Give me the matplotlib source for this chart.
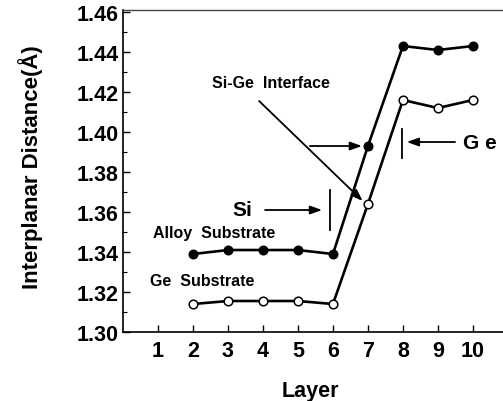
import numpy as np
from matplotlib import pyplot as plt, ticker as mticker

plt.rcParams['font.family'] = ['Liberation Sans', 'DejaVu Sans']
plt.rcParams['font.weight'] = 'bold'

layers = [2, 3, 4, 5, 6, 7, 8, 9, 10]
alloy = [1.339, 1.341, 1.341, 1.341, 1.339, 1.393, 1.443, 1.441, 1.443]
ge_sub = [1.314, 1.3155, 1.3155, 1.3155, 1.314, 1.364, 1.416, 1.412, 1.416]

xticks = [1, 2, 3, 4, 5, 6, 7, 8, 9, 10]
yticks = [1.30, 1.32, 1.34, 1.36, 1.38, 1.40, 1.42, 1.44, 1.46]


def make_plot():
    fig = plt.figure(figsize=(5.03, 4.02), dpi=100)
    ax = fig.add_axes([0.2445, 0.1716, 0.7555, 0.801])

    ax.plot(layers, alloy, color='black', lw=1.9, marker='o', ms=6.2,
            mfc='black', mec='black', zorder=3)
    ax.plot(layers, ge_sub, color='black', lw=1.9, marker='o', ms=6.2,
            mfc='white', mec='black', mew=1.1, zorder=3)

    ax.set_xlim(0, 10.86)
    ax.set_ylim(1.30, 1.461)
    ax.set_xticks(xticks)
    ax.set_yticks(yticks)
    ax.yaxis.set_major_formatter(mticker.FormatStrFormatter('%.2f'))
    ax.yaxis.set_minor_locator(mticker.MultipleLocator(0.01))
    ax.tick_params(which='major', direction='in', length=5, width=1,
                   labelsize=15.5)
    ax.tick_params(axis='y', pad=3)
    ax.tick_params(axis='x', pad=6)
    ax.tick_params(which='minor', direction='in', length=3, width=0.8)
    ax.xaxis.set_ticks_position('bottom')
    ax.yaxis.set_ticks_position('left')
    for lab in ax.get_xticklabels() + ax.get_yticklabels():
        lab.set_fontweight('bold')

    ax.spines['right'].set_visible(False)
    ax.spines['top'].set_color('#444444')
    ax.spines['top'].set_linewidth(1.0)
    ax.spines['left'].set_linewidth(1.2)
    ax.spines['bottom'].set_linewidth(1.2)

    ax.set_xlabel('Layer', fontsize=15.5, fontweight='bold')
    ax.set_ylabel('Interplanar Distance(\u00c5)', fontsize=16,
                  fontweight='bold')
    ax.xaxis.set_label_coords(0.492, -0.148)
    ax.yaxis.set_label_coords(-0.21, 0.515)

    arrow = dict(arrowstyle='-|>,head_length=0.7,head_width=0.25',
                 color='black', lw=1.3, shrinkA=0, shrinkB=0)

    # labels for the two curves
    ax.text(2.6, 1.350, 'Alloy  Substrate', fontsize=11.5, fontweight='bold',
            ha='center', va='center')
    ax.text(2.26, 1.326, 'Ge  Substrate', fontsize=11.5, fontweight='bold',
            ha='center', va='center')

    # interface pointers
    ax.text(4.23, 1.425, 'Si-Ge  Interface', fontsize=11.5, fontweight='bold',
            ha='center', va='center')
    ax.annotate('', xy=(6.85, 1.3655), xytext=(3.89, 1.4155),
                arrowprops=arrow)
    ax.annotate('', xy=(6.83, 1.393), xytext=(5.34, 1.393),
                arrowprops=arrow)

    # Si boundary
    ax.text(3.4, 1.3615, 'Si', fontsize=15, fontweight='bold',
            ha='center', va='center')
    ax.annotate('', xy=(5.69, 1.361), xytext=(4.06, 1.361),
                arrowprops=arrow)
    ax.plot([5.91, 5.91], [1.351, 1.371], color='black', lw=1.3)

    # Ge boundary
    ax.text(10.2, 1.395, 'G e', fontsize=15, fontweight='bold',
            ha='center', va='center')
    ax.annotate('', xy=(8.11, 1.395), xytext=(9.49, 1.395),
                arrowprops=arrow)
    ax.plot([7.97, 7.97], [1.387, 1.4015], color='black', lw=1.3)

    fig.savefig('out.png', dpi=100)


if __name__ == '__main__':
    make_plot()
